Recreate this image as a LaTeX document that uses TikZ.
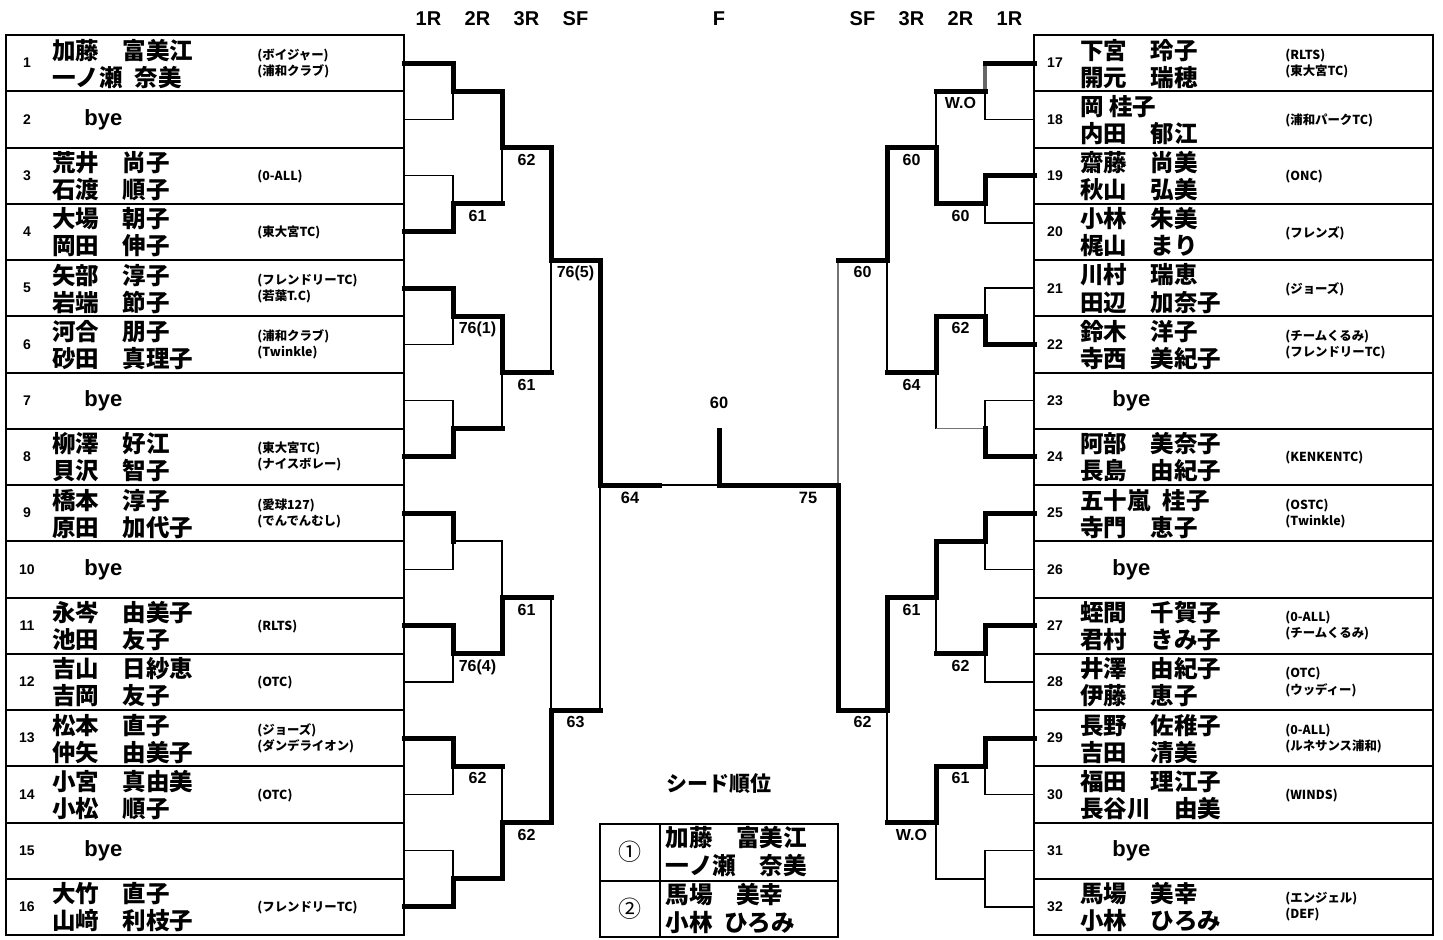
\documentclass[tikz,border=0pt]{standalone}
\usepackage{fontspec}
\setmainfont{Liberation Sans}
\newfontfamily\jp{Noto Sans CJK JP}
\newcommand\hsp{\hspace{0.5em}}
\tikzset{
 thk/.style={line width=2.5pt, line join=miter, line cap=rect},
 thn/.style={line width=0.8pt},
 gry/.style={line width=0.6pt, draw=black!55},
 grythk/.style={line width=1.6pt, draw=black!60},
 tbl/.style={line width=1pt},
 numtxt/.style={font=\bfseries\fontsize{7}{8}\selectfont, inner sep=0pt},
 nametxt/.style={font=\jp\bfseries\fontsize{11.75}{12}\selectfont, inner sep=0pt, anchor=west},
 clubtxt/.style={font=\jp\bfseries\fontsize{6.2}{7}\selectfont, inner sep=0pt, anchor=west},
 byetxt/.style={font=\bfseries\fontsize{11}{12}\selectfont, inner sep=0pt, anchor=west},
 score/.style={font=\bfseries\fontsize{8}{9}\selectfont, inner sep=0pt, anchor=base},
 fscore/.style={font=\bfseries\fontsize{8.2}{9}\selectfont, inner sep=0pt, anchor=base},
 hdr/.style={font=\bfseries\fontsize{10}{12}\selectfont, inner sep=0pt, anchor=base},
 seedname/.style={font=\jp\bfseries\fontsize{11.8}{12}\selectfont, inner sep=0pt, anchor=west},
}
% player with two club lines
\newcommand\pl[7]{%
 \pgfmathsetmacro\yc{35+56.25*(#2-0.5)}
 \node[numtxt] (num#3) at (#1+21,\yc) {#3};
 \node[nametxt] (na#3) at (#1+46,\yc-13) {#4};
 \node[nametxt] (nb#3) at (#1+46,\yc+14) {#5};
 \node[clubtxt] (ca#3) at (#1+251,\yc-8) {#6};
 \node[clubtxt] (cb#3) at (#1+251,\yc+8) {#7};
}
% player with one club line
\newcommand\plo[6]{%
 \pgfmathsetmacro\yc{35+56.25*(#2-0.5)}
 \node[numtxt] (num#3) at (#1+21,\yc) {#3};
 \node[nametxt] (na#3) at (#1+46,\yc-13) {#4};
 \node[nametxt] (nb#3) at (#1+46,\yc+14) {#5};
 \node[clubtxt] (ca#3) at (#1+251,\yc+1) {#6};
}
\newcommand\by[3]{%
 \pgfmathsetmacro\yc{35+56.25*(#2-0.5)}
 \node[numtxt] (num#3) at (#1+21,\yc) {#3};
 \node[byetxt] (bye#3) at (#1+78,\yc) {bye};
}
\begin{document}
\begin{tikzpicture}[x=0.5pt,y=-0.5pt]
\useasboundingbox (0,0) rectangle (1443,939);
\fill[white] (0,0) rectangle (1443,939);

% ---------- tables ----------
\draw[tbl] (6,35) rectangle (404,935);
\draw[tbl] (1034,35) rectangle (1433,935);
\foreach \k in {1,...,15}{
 \draw[tbl] (6,{35+56.25*\k}) -- (404,{35+56.25*\k});
 \draw[tbl] (1034,{35+56.25*\k}) -- (1433,{35+56.25*\k});
}

% ---------- headers ----------
\node[hdr] (h1) at (428.5,25) {1R};
\node[hdr] (h2) at (477.5,25) {2R};
\node[hdr] (h3) at (526.5,25) {3R};
\node[hdr] (h4) at (575.5,25) {SF};
\node[hdr] (hf) at (719,25) {F};
\node[hdr] (h5) at (862.5,25) {SF};
\node[hdr] (h6) at (911.5,25) {3R};
\node[hdr] (h7) at (960.5,25) {2R};
\node[hdr] (h8) at (1009.5,25) {1R};

% ---------- left players ----------
\pl{6}{1}{1}{加藤　富美江}{一ノ瀬\hsp 奈美}{(ボイジャー)}{(浦和クラブ)}
\by{6}{2}{2}
\plo{6}{3}{3}{荒井　尚子}{石渡　順子}{(0-ALL)}
\plo{6}{4}{4}{大場　朝子}{岡田　伸子}{(東大宮TC)}
\pl{6}{5}{5}{矢部　淳子}{岩端　節子}{(フレンドリーTC)}{(若葉T.C)}
\pl{6}{6}{6}{河合　朋子}{砂田　真理子}{(浦和クラブ)}{(Twinkle)}
\by{6}{7}{7}
\pl{6}{8}{8}{柳澤　好江}{貝沢　智子}{(東大宮TC)}{(ナイスボレー)}
\pl{6}{9}{9}{橋本　淳子}{原田　加代子}{(愛球127)}{(でんでんむし)}
\by{6}{10}{10}
\plo{6}{11}{11}{永岑　由美子}{池田　友子}{(RLTS)}
\plo{6}{12}{12}{吉山　日紗恵}{吉岡　友子}{(OTC)}
\pl{6}{13}{13}{松本　直子}{仲矢　由美子}{(ジョーズ)}{(ダンデライオン)}
\plo{6}{14}{14}{小宮　真由美}{小松　順子}{(OTC)}
\by{6}{15}{15}
\plo{6}{16}{16}{大竹　直子}{山﨑　利枝子}{(フレンドリーTC)}

% ---------- right players ----------
\pl{1034}{1}{17}{下宮　玲子}{開元　瑞穂}{(RLTS)}{(東大宮TC)}
\plo{1034}{2}{18}{岡 桂子}{内田　郁江}{(浦和パークTC)}
\plo{1034}{3}{19}{齋藤　尚美}{秋山　弘美}{(ONC)}
\plo{1034}{4}{20}{小林　朱美}{梶山　まり}{(フレンズ)}
\plo{1034}{5}{21}{川村　瑞恵}{田辺　加奈子}{(ジョーズ)}
\pl{1034}{6}{22}{鈴木　洋子}{寺西　美紀子}{(チームくるみ)}{(フレンドリーTC)}
\by{1034}{7}{23}
\plo{1034}{8}{24}{阿部　美奈子}{長島　由紀子}{(KENKENTC)}
\pl{1034}{9}{25}{五十嵐\hsp 桂子}{寺門　恵子}{(OSTC)}{(Twinkle)}
\by{1034}{10}{26}
\pl{1034}{11}{27}{蛭間　千賀子}{君村　きみ子}{(0-ALL)}{(チームくるみ)}
\pl{1034}{12}{28}{井澤　由紀子}{伊藤　恵子}{(OTC)}{(ウッディー)}
\pl{1034}{13}{29}{長野　佐稚子}{吉田　清美}{(0-ALL)}{(ルネサンス浦和)}
\plo{1034}{14}{30}{福田　理江子}{長谷川　由美}{(WINDS)}
\by{1034}{15}{31}
\pl{1034}{16}{32}{馬場　美幸}{小林　ひろみ}{(エンジェル)}{(DEF)}

% ---------- left thin skeleton ----------
\foreach \t/\u in {63.125/119.375, 175.625/231.875, 288.125/344.375, 400.625/456.875, 513.125/569.375, 625.625/681.875, 738.125/794.375, 850.625/906.875}
 \draw[thn] (404,\t) -- (453,\t) -- (453,\u) -- (404,\u);
\foreach \t/\u in {91.25/203.75, 316.25/428.75, 541.25/653.75, 766.25/878.75}
 \draw[thn] (453,\t) -- (502,\t) -- (502,\u) -- (453,\u);
\foreach \t/\u in {147.5/372.5, 597.5/822.5}
 \draw[thn] (502,\t) -- (551,\t) -- (551,\u) -- (502,\u);
\draw[thn] (551,260) -- (600,260) -- (600,710) -- (551,710);
\draw[thn] (600,485) -- (719,485);

% ---------- right thin skeleton ----------
\draw[thn] (985,91.25) -- (985,119.375) -- (1034,119.375);
\draw[grythk] (985,63.125) -- (985,91.25);
\draw[thn] (1034,175.625) -- (985,175.625) -- (985,223) -- (1034,223);
\foreach \t/\u in {288.125/344.375, 400.625/456.875, 513.125/569.375, 625.625/681.875, 738.125/794.375, 850.625/906.875}
 \draw[thn] (1034,\t) -- (985,\t) -- (985,\u) -- (1034,\u);
\foreach \t/\u in {91.25/203.75, 541.25/653.75, 766.25/878.75}
 \draw[thn] (985,\t) -- (936,\t) -- (936,\u) -- (985,\u);
\draw[thn] (985,316.25) -- (936,316.25) -- (936,428.75);
\draw[gry] (936,428.75) -- (985,428.75);
\foreach \t/\u in {147.5/372.5, 597.5/822.5}
 \draw[thn] (936,\t) -- (887,\t) -- (887,\u) -- (936,\u);
\draw[gry] (838,260) -- (838,485);

% ---------- left winner paths ----------
\draw[thk] (404,63.125) -- (453,63.125) -- (453,91.25) -- (502,91.25) -- (502,147.5) -- (551,147.5) -- (551,260) -- (600,260) -- (600,485) -- (659,485);
\draw[thk] (404,231.875) -- (453,231.875) -- (453,203.75) -- (502,203.75);
\draw[thk] (404,288.125) -- (453,288.125) -- (453,316.25) -- (502,316.25) -- (502,372.5) -- (551,372.5);
\draw[thk] (404,456.875) -- (453,456.875) -- (453,428.75) -- (502,428.75);
\draw[thk] (404,513.125) -- (453,513.125) -- (453,541.25);
\draw[thk] (404,625.625) -- (453,625.625) -- (453,653.75) -- (502,653.75) -- (502,597.5) -- (551,597.5);
\draw[thk] (404,738.125) -- (453,738.125) -- (453,766.25) -- (502,766.25);
\draw[thk] (404,906.875) -- (453,906.875) -- (453,878.75) -- (502,878.75) -- (502,822.5) -- (551,822.5) -- (551,710) -- (600,710);

% ---------- right winner paths ----------
\draw[thk] (1034,63.125) -- (985,63.125);
\draw[thk] (985,91.25) -- (936,91.25);
\draw[thk] (1034,175.625) -- (985,175.625) -- (985,203.75) -- (936,203.75) -- (936,147.5) -- (887,147.5) -- (887,260) -- (838,260);
\draw[thk] (1034,344.375) -- (985,344.375) -- (985,316.25) -- (936,316.25) -- (936,372.5) -- (887,372.5);
\draw[thk] (1034,456.875) -- (985,456.875) -- (985,428.75);
\draw[thk] (1034,513.125) -- (985,513.125) -- (985,541.25) -- (936,541.25) -- (936,597.5) -- (887,597.5) -- (887,710) -- (838,710) -- (838,485) -- (719,485);
\draw[thk] (1034,625.625) -- (985,625.625) -- (985,653.75) -- (936,653.75);
\draw[thk] (1034,738.125) -- (985,738.125) -- (985,766.25) -- (936,766.25) -- (936,822.5) -- (887,822.5);
\draw[thk] (719,430) -- (719,485);

% ---------- scores ----------
\node[score] (s1) at (477.5,221.25) {61};
\node[score] (s2) at (477.5,333.75) {76(1)};
\node[score] (s3) at (477.5,671.25) {76(4)};
\node[score] (s4) at (477.5,783.75) {62};
\node[score] (s5) at (526.5,165) {62};
\node[score] (s6) at (526.5,390) {61};
\node[score] (s7) at (526.5,615) {61};
\node[score] (s8) at (526.5,840) {62};
\node[score] (s9) at (575.5,277.5) {76(5)};
\node[score] (s10) at (575.5,727.5) {63};
\node[fscore] (f1) at (630,503) {64};
\node[fscore] (f2) at (808,503) {75};
\node[fscore] (f3) at (719,408) {60};
\node[score] (t1) at (960.5,108.75) {W.O};
\node[score] (t2) at (960.5,221.25) {60};
\node[score] (t3) at (960.5,333.75) {62};
\node[score] (t4) at (960.5,671.25) {62};
\node[score] (t5) at (960.5,783.75) {61};
\node[score] (t6) at (911.5,165) {60};
\node[score] (t7) at (911.5,390) {64};
\node[score] (t8) at (911.5,615) {61};
\node[score] (t9) at (911.5,840) {W.O};
\node[score] (t10) at (862.5,277.5) {60};
\node[score] (t11) at (862.5,727.5) {62};

% ---------- seed table ----------
\node[font=\jp\bfseries\fontsize{10.5}{12}\selectfont, inner sep=0pt] (seedtitle) at (719,784) {シード順位};
\draw[tbl] (600,824) rectangle (838,937);
\draw[tbl] (600,881) -- (838,881);
\draw[tbl] (660,824) -- (660,937);
\node[font=\jp\fontsize{11.5}{12}\selectfont, inner sep=0pt] (seed1) at (630,852) {①};
\node[font=\jp\fontsize{11.5}{12}\selectfont, inner sep=0pt] (seed2) at (630,909) {②};
\node[seedname] (sa1) at (665,838) {加藤　富美江};
\node[seedname] (sb1) at (665,865) {一ノ瀬　奈美};
\node[seedname] (sa2) at (665,895) {馬場　美幸};
\node[seedname] (sb2) at (665,922) {小林\hsp ひろみ};
\end{tikzpicture}
\end{document}
